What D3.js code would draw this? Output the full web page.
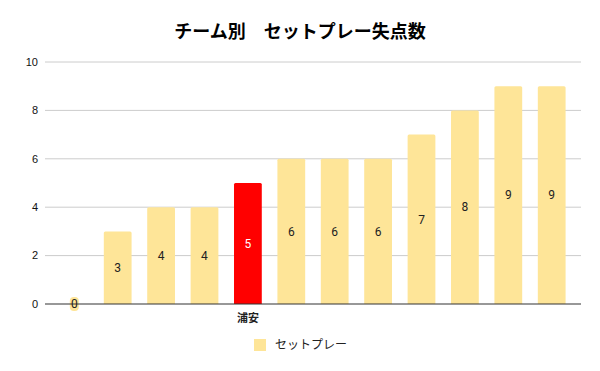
<!DOCTYPE html>
<html>
<head>
<meta charset="utf-8">
<script src="https://cdn.jsdelivr.net/npm/d3@7"></script>
<style>
  body { margin: 0; background: #fff; }
  text { font-family: Roboto, "Noto Sans CJK JP", sans-serif; }
</style>
</head>
<body>
<div id="chart"></div>
<script>
// Data
const teams = ["t1", "t2", "t3", "t4", "浦安", "t6", "t7", "t8", "t9", "t10", "t11", "t12"];
const setPlayGoals = [0, 3, 4, 4, 5, 6, 6, 6, 7, 8, 9, 9];
const yTicks = [0, 2, 4, 6, 8, 10];
const highlightTeam = "浦安";

const width = 600;
const height = 371;
const margin = { top: 62, right: 19, bottom: 67, left: 45 };

const svg = d3.select("#chart").append("svg")
    .attr("width", width)
    .attr("height", height);

// Title
svg.append("text")
    .attr("x", width / 2)
    .attr("y", 38)
    .attr("text-anchor", "middle")
    .style("font-family", "'Noto Sans CJK JP', sans-serif")
    .style("font-size", "18px")
    .style("font-weight", "bold")
    .text("チーム別　セットプレー失点数");

const x = d3.scaleBand()
    .domain(teams)
    .range([margin.left, width - margin.right])
    .paddingInner(0.36)
    .paddingOuter(0.355);

const y = d3.scaleLinear()
    .domain([0, 10])
    .range([height - margin.bottom, margin.top]);

// Gridlines
svg.append("g")
    .selectAll("line")
    .data(yTicks.filter(d => d > 0))
    .join("line")
    .attr("x1", margin.left)
    .attr("x2", width - margin.right)
    .attr("y1", d => y(d))
    .attr("y2", d => y(d))
    .attr("stroke", "#cccccc")
    .attr("stroke-width", 1);

// Y tick labels
svg.append("g")
    .selectAll("text")
    .data(yTicks)
    .join("text")
    .attr("x", 38)
    .attr("y", d => y(d))
    .attr("dy", "0.35em")
    .attr("text-anchor", "end")
    .style("font-family", "'Liberation Sans', Arial, sans-serif")
    .style("font-size", "11px")
    .style("fill", "#111")
    .text(d => d);

const barColor = d => d === highlightTeam ? "#ff0000" : "#fee598";

// Bars with slightly rounded tops
const bars = svg.append("g");
teams.forEach((t, i) => {
    const v = setPlayGoals[i];
    const x0 = x(t), w = x.bandwidth();
    const y0 = y(v), yb = y(0);
    if (v === 0) {
        // zero-height bar shows as a small blob behind the label
        bars.append("rect")
            .attr("x", x0 + w / 2 - 4.5)
            .attr("y", yb - 7)
            .attr("width", 9)
            .attr("height", 14)
            .attr("rx", 4)
            .attr("fill", barColor(t));
        return;
    }
    const r = 1.5;
    bars.append("path")
        .attr("d", `M${x0},${yb}V${y0 + r}Q${x0},${y0} ${x0 + r},${y0}H${x0 + w - r}Q${x0 + w},${y0} ${x0 + w},${y0 + r}V${yb}Z`)
        .attr("fill", barColor(t));
});

// Baseline
svg.append("line")
    .attr("x1", margin.left)
    .attr("x2", width - margin.right)
    .attr("y1", y(0))
    .attr("y2", y(0))
    .attr("stroke", "#333333")
    .attr("stroke-width", 1.2);

// Value labels
svg.append("g")
    .selectAll("text")
    .data(teams)
    .join("text")
    .attr("x", d => x(d) + x.bandwidth() / 2)
    .attr("y", (d, i) => (y(setPlayGoals[i]) + y(0)) / 2)
    .attr("dy", "0.35em")
    .attr("text-anchor", "middle")
    .style("font-size", "12px")
    .style("fill", d => d === highlightTeam ? "#ffffff" : "#222")
    .text((d, i) => setPlayGoals[i]);

// Category label (only the highlighted team is labelled)
svg.append("text")
    .attr("x", x(highlightTeam) + x.bandwidth() / 2)
    .attr("y", y(0) + 18)
    .attr("text-anchor", "middle")
    .style("font-family", "'Noto Sans CJK JP', sans-serif")
    .style("font-size", "11px")
    .style("font-weight", "bold")
    .style("fill", "#222")
    .text(highlightTeam);

// Legend
const legend = svg.append("g").attr("transform", "translate(254,339)");
legend.append("rect")
    .attr("width", 12)
    .attr("height", 12)
    .attr("fill", "#fee598");
legend.append("text")
    .attr("x", 21)
    .attr("y", 6)
    .attr("dy", "0.35em")
    .style("font-family", "'Noto Sans CJK JP', sans-serif")
    .style("font-size", "12px")
    .style("fill", "#222")
    .text("セットプレー");
</script>
</body>
</html>
